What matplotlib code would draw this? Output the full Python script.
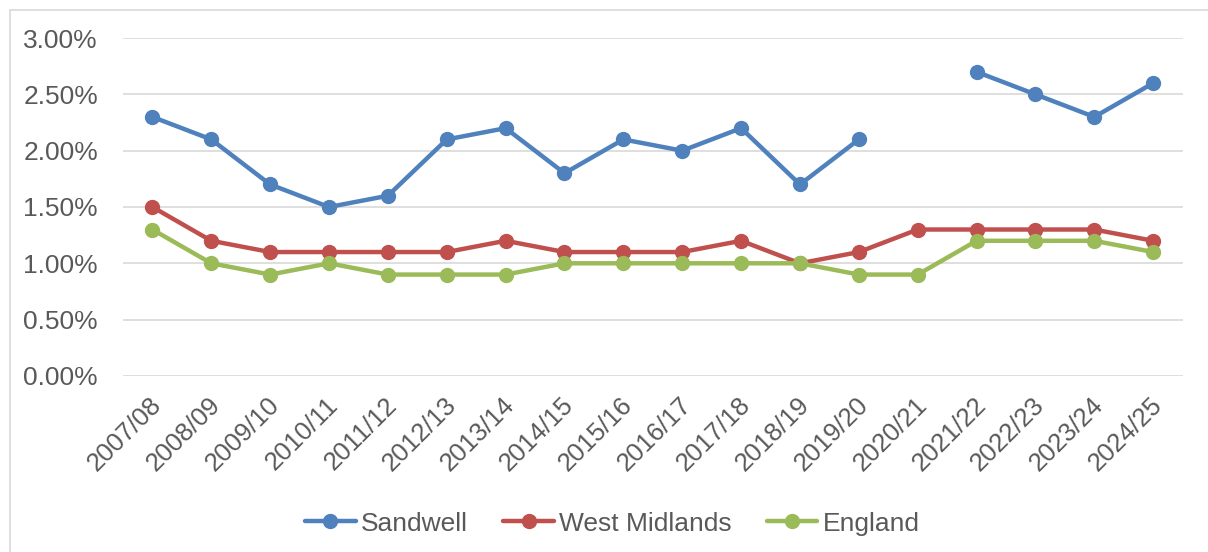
import numpy as np
import matplotlib.pyplot as plt
import matplotlib.transforms as mtransforms
from matplotlib.patches import Rectangle
from matplotlib.ticker import FuncFormatter

plt.rcParams['font.family'] = ['Liberation Sans', 'DejaVu Sans']

years = ['2007/08', '2008/09', '2009/10', '2010/11', '2011/12', '2012/13',
         '2013/14', '2014/15', '2015/16', '2016/17', '2017/18', '2018/19',
         '2019/20', '2020/21', '2021/22', '2022/23', '2023/24', '2024/25']
sandwell = [2.3, 2.1, 1.7, 1.5, 1.6, 2.1, 2.2, 1.8, 2.1, 2.0, 2.2, 1.7,
            2.1, np.nan, 2.7, 2.5, 2.3, 2.6]
west_midlands = [1.5, 1.2, 1.1, 1.1, 1.1, 1.1, 1.2, 1.1, 1.1, 1.1, 1.2, 1.0,
                 1.1, 1.3, 1.3, 1.3, 1.3, 1.2]
england = [1.3, 1.0, 0.9, 1.0, 0.9, 0.9, 0.9, 1.0, 1.0, 1.0, 1.0, 1.0,
           0.9, 0.9, 1.2, 1.2, 1.2, 1.1]

series = [('Sandwell', sandwell, '#4F81BD'),
          ('West Midlands', west_midlands, '#C0504D'),
          ('England', england, '#9BBB59')]

text_col = '#595959'

fig = plt.figure(figsize=(12.08, 5.52), dpi=100)
ax = fig.add_axes([0.1018, 0.319, 0.8772, 0.612])

x = np.arange(len(years))
for name, vals, col in series:
    ax.plot(x, vals, color=col, lw=3.2, marker='o', markersize=10,
            label=name, solid_capstyle='round', zorder=3)

ax.set_xlim(-0.5, len(years) - 0.5)
ax.set_ylim(0, 3.0)
ax.set_yticks(np.arange(0, 3.01, 0.5))
ax.yaxis.set_major_formatter(FuncFormatter(lambda v, p: f'{v:.2f}%'))
ax.set_xticks(x)
ax.set_xticklabels(years, rotation=45, ha='right', va='top',
                   rotation_mode='anchor')
ax.tick_params(axis='both', length=0, labelsize=19, colors=text_col)
ax.tick_params(axis='x', labelsize=18.5)
ax.tick_params(axis='y', pad=18)
ax.tick_params(axis='x', pad=12)

# nudge the slanted year labels so they end just past their ticks
shift = mtransforms.ScaledTranslation(-3 / 100, 0, fig.dpi_scale_trans)
for lbl in ax.get_xticklabels():
    lbl.set_transform(lbl.get_transform() + shift)

ax.grid(axis='y', color='#D9D9D9', lw=1.2)
ax.set_axisbelow(True)
for s in ax.spines.values():
    s.set_visible(False)

leg = fig.legend(loc='center', bbox_to_anchor=(0.507, 0.0515), ncol=3,
                 frameon=False, fontsize=19, handlelength=1.9,
                 columnspacing=1.35, handletextpad=0.2)
for t in leg.get_texts():
    t.set_color(text_col)

# outer chart border
fig.patches.append(Rectangle((10 / 1208, -0.05), 1.0, 1 - 10 / 552 + 0.05,
                             transform=fig.transFigure, fill=False,
                             edgecolor='#D9D9D9', lw=1.2))

fig.savefig('out.png', dpi=100)
